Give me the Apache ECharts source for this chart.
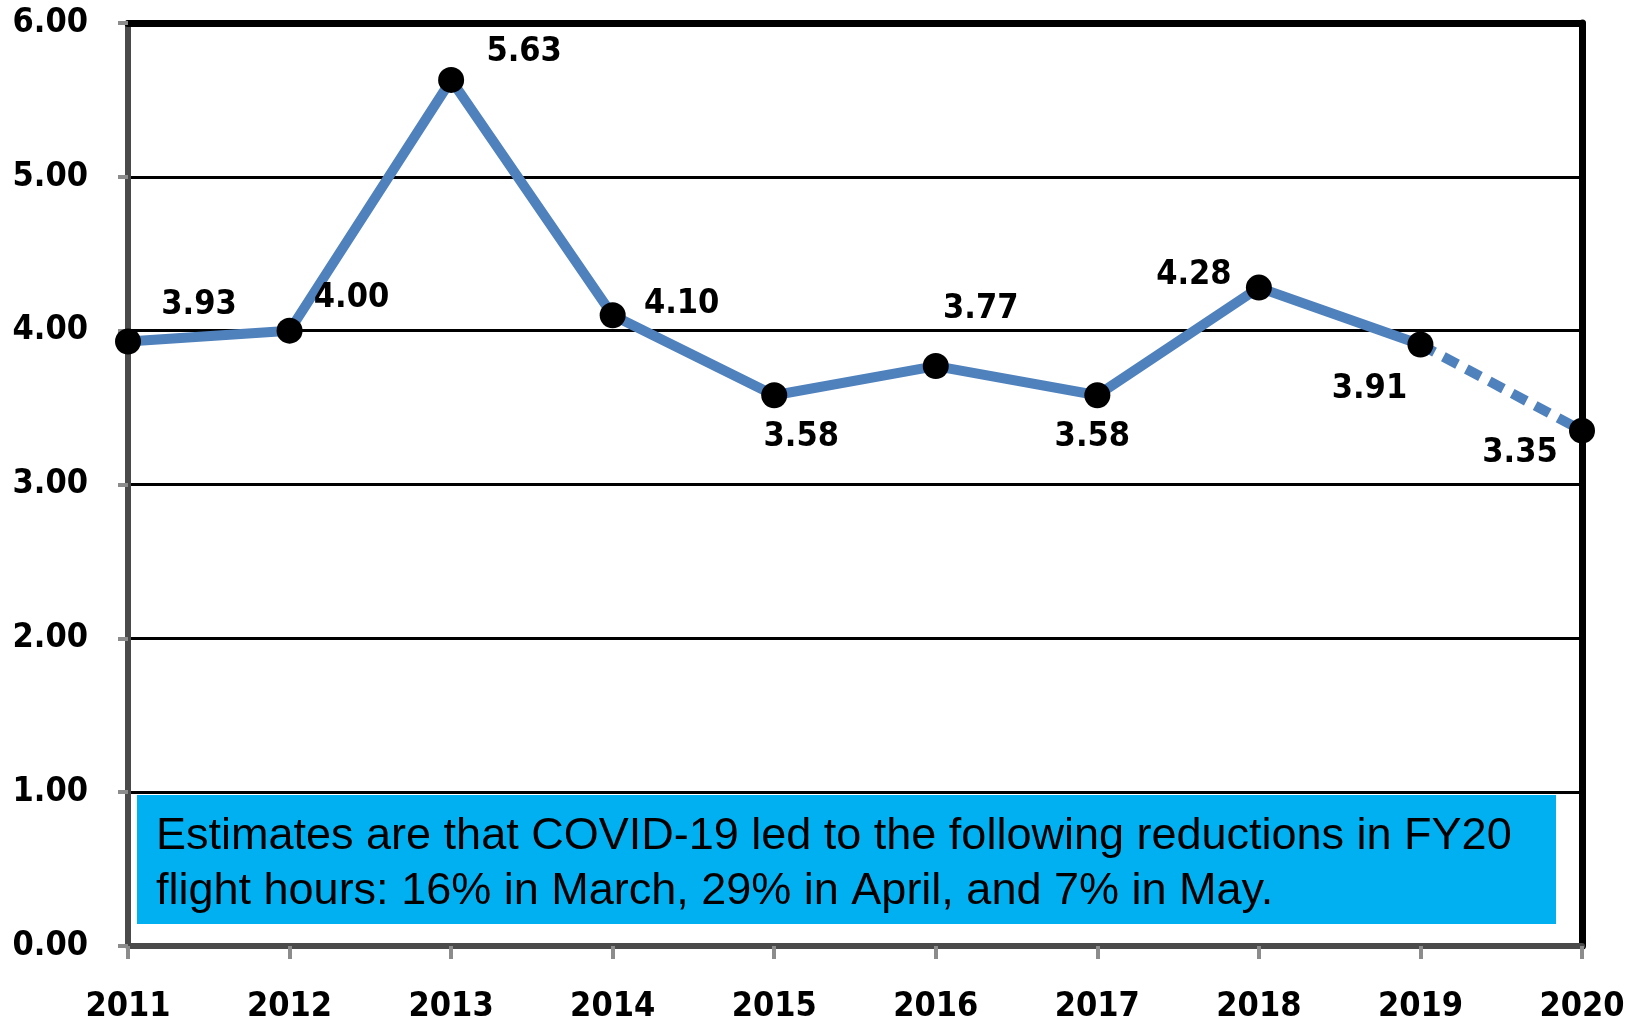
<!DOCTYPE html>
<html>
<head>
<meta charset="utf-8">
<style>
  html, body { margin: 0; padding: 0; background: #fff; }
  #chart { width: 1644px; height: 1024px; }
</style>
<script src="https://cdn.jsdelivr.net/npm/echarts@6/dist/echarts.min.js"></script>
</head>
<body>
<div id="chart"></div>
<script>
const years = ['2011', '2012', '2013', '2014', '2015', '2016', '2017', '2018', '2019', '2020'];
const actualValues = [3.93, 4.00, 5.63, 4.10, 3.58, 3.77, 3.58, 4.28, 3.91, null];
const estimateValues = [null, null, null, null, null, null, null, null, 3.91, 3.35];
const pointValues = [3.93, 4.00, 5.63, 4.10, 3.58, 3.77, 3.58, 4.28, 3.91, 3.35];
// where each value label sits relative to its point
const labelOffsets = [[71, -36], [62, -32], [73, -28], [69, -11], [27, 42],
                      [45, -57], [-5, 42], [-65, -12], [-51, 45], [-62, 23]];
const noteLines = [
  'Estimates are that COVID-19 led to the following reductions in FY20',
  'flight hours: 16% in March, 29% in April, and 7% in May.'
];

const labelFont = '"DejaVu Sans Condensed", "DejaVu Sans", sans-serif';
const chart = echarts.init(document.getElementById('chart'));

const option = {
  animation: false,
  backgroundColor: '#ffffff',
  grid: { left: 128, right: 62, top: 23, bottom: 77 },
  xAxis: [
    {
      type: 'category',
      data: years,
      boundaryGap: false,
      axisLine: { onZero: false, lineStyle: { color: '#4a4a4a', width: 6 } },
      axisTick: { show: true, inside: false, length: 13, lineStyle: { color: '#8c8c8c', width: 4 } },
      axisLabel: { color: '#000', fontFamily: labelFont, fontWeight: 'bold', fontSize: 34, margin: 44 },
      splitLine: { show: false }
    },
    {
      type: 'category',
      data: years,
      position: 'top',
      boundaryGap: false,
      axisLine: { onZero: false, lineStyle: { color: '#000', width: 7 } },
      axisTick: { show: false },
      axisLabel: { show: false }
    }
  ],
  yAxis: [
    {
      type: 'value',
      min: 0,
      max: 6,
      interval: 1,
      axisLine: { show: true, onZero: false, lineStyle: { color: '#4a4a4a', width: 6 } },
      axisTick: { show: true, length: 10, lineStyle: { color: '#8c8c8c', width: 4 } },
      axisLabel: {
        color: '#000', fontFamily: labelFont, fontWeight: 'bold', fontSize: 34, margin: 40,
        formatter: v => v.toFixed(2)
      },
      splitLine: { show: true, lineStyle: { color: '#000', width: 3 } }
    },
    {
      type: 'value',
      min: 0,
      max: 6,
      interval: 1,
      position: 'right',
      axisLine: { show: true, onZero: false, lineStyle: { color: '#000', width: 7 } },
      axisTick: { show: false },
      axisLabel: { show: false },
      splitLine: { show: false }
    }
  ],
  series: [
    {
      type: 'line',
      data: actualValues,
      showSymbol: false,
      lineStyle: { color: '#4F81BD', width: 10 },
      z: 2
    },
    {
      type: 'line',
      data: estimateValues,
      showSymbol: false,
      lineStyle: { color: '#4F81BD', width: 10, type: [16, 10] },
      z: 2
    },
    {
      type: 'line',
      data: pointValues.map((v, i) => ({
        value: v,
        label: { offset: labelOffsets[i] }
      })),
      symbol: 'circle',
      symbolSize: 26,
      itemStyle: { color: '#000' },
      lineStyle: { width: 0, opacity: 0 },
      label: {
        show: true,
        position: 'inside',
        formatter: p => p.value.toFixed(2),
        color: '#000',
        fontFamily: labelFont,
        fontWeight: 'bold',
        fontSize: 34
      },
      z: 3
    }
  ],
  graphic: [
    {
      type: 'rect',
      left: 137,
      top: 795,
      shape: { width: 1419, height: 129 },
      style: { fill: '#00B0F0' },
      z: 10
    },
    {
      type: 'text',
      x: 156,
      y: 809,
      style: {
        text: noteLines.join('\n'),
        fill: '#000',
        font: '45px "Liberation Sans", Arial, sans-serif',
        lineHeight: 55
      },
      z: 11
    }
  ]
};

chart.setOption(option);
window.addEventListener('resize', function() {
  chart.resize();
});
</script>
</body>
</html>
